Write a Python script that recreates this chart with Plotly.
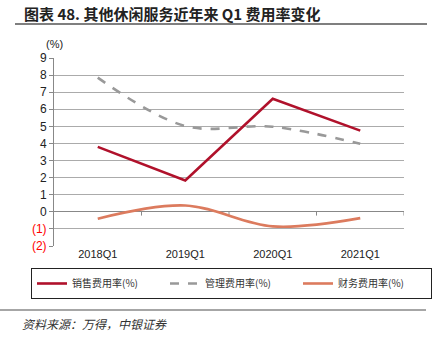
import plotly.graph_objects as go

categories = ["2018Q1", "2019Q1", "2020Q1", "2021Q1"]
sales = [3.8, 1.83, 6.62, 4.75]
admin = [7.85, 5.02, 4.98, 3.98]
finance = [-0.4, 0.37, -0.85, -0.37]
series_names = ["销售费用率(%)", "管理费用率(%)", "财务费用率(%)"]
y_ticks = [-2, -1, 0, 1, 2, 3, 4, 5, 6, 7, 8, 9]
y_ticktext = ["<span style='color:#FF0000'>(2)</span>", "<span style='color:#FF0000'>(1)</span>",
              "0", "1", "2", "3", "4", "5", "6", "7", "8", "9"]

CJK = "Noto Sans CJK SC"
ARIAL = "Liberation Sans, Arial"

fig = go.Figure()
fig.add_trace(go.Scatter(x=categories, y=sales, name=series_names[0], mode="lines",
                         line=dict(color="#B0112B", width=2.6)))
fig.add_trace(go.Scatter(x=categories, y=admin, name=series_names[1], mode="lines",
                         line=dict(color="#999999", width=2.6, dash="dash", shape="spline", smoothing=1)))
fig.add_trace(go.Scatter(x=categories, y=finance, name=series_names[2], mode="lines",
                         line=dict(color="#DC7B5E", width=2.6, shape="spline", smoothing=1)))

# tick marks on the zero line at category boundaries
for b in [0.5, 1.5, 2.5, 3.5]:
    fig.add_shape(type="line", xref="x", yref="y", x0=b, x1=b, y0=0, y1=-0.22,
                  line=dict(color="#888888", width=1), layer="below")

fig.update_layout(
    width=432, height=350,
    margin=dict(l=54, r=28, t=58, b=104),
    paper_bgcolor="white", plot_bgcolor="white",
    showlegend=True,
    legend=dict(orientation="h", x=-0.057, xanchor="left", y=-0.117, yanchor="top",
                bordercolor="#222222", borderwidth=1, itemwidth=30,
                font=dict(family=CJK, size=10, color="#333333"),
                entrywidth=88, entrywidthmode="pixels", tracegroupgap=0),
    xaxis=dict(type="category", range=[-0.5, 3.5], showgrid=False, showline=False,
               ticks="", tickfont=dict(family=ARIAL, size=11, color="#222222"),
               zeroline=False),
    yaxis=dict(range=[-2, 9], tickvals=y_ticks, ticktext=y_ticktext,
               showgrid=True, gridcolor="#ABABAB", gridwidth=1,
               zeroline=True, zerolinecolor="#888888", zerolinewidth=1,
               showline=True, linecolor="#888888", linewidth=1,
               ticks="outside", ticklen=4, tickcolor="#888888",
               tickfont=dict(family=ARIAL, size=12, color="#222222")),
    annotations=[
        dict(text="(%)", xref="paper", yref="paper", x=0.0, y=1.03, xanchor="center", yanchor="bottom",
             showarrow=False, font=dict(family=ARIAL, size=11, color="#222222")),
        dict(text="<b>图表 48. 其他休闲服务近年来 Q1 费用率变化</b>", xref="paper", yref="paper",
             x=(22 - 54) / 350, y=(246 - 13) / 188, xanchor="left", yanchor="middle",
             showarrow=False, font=dict(family=CJK, size=15, color="#222222")),
        dict(text="<i>资料来源：万得，中银证券</i>", xref="paper", yref="paper",
             x=(20 - 54) / 350, y=(246 - 323) / 188, xanchor="left", yanchor="middle",
             showarrow=False, font=dict(family=CJK, size=12, color="#333333")),
    ],
    shapes=list(fig.layout.shapes) + [
        dict(type="line", xref="paper", yref="paper", x0=(15 - 54) / 350, x1=(427 - 54) / 350,
             y0=(246 - 24) / 188, y1=(246 - 24) / 188, line=dict(color="#555555", width=1.5)),
        dict(type="line", xref="paper", yref="paper", x0=(0 - 54) / 350, x1=(426 - 54) / 350,
             y0=(246 - 310) / 188, y1=(246 - 310) / 188, line=dict(color="#888888", width=1.5)),
    ],
)

fig.write_html("out.html")
